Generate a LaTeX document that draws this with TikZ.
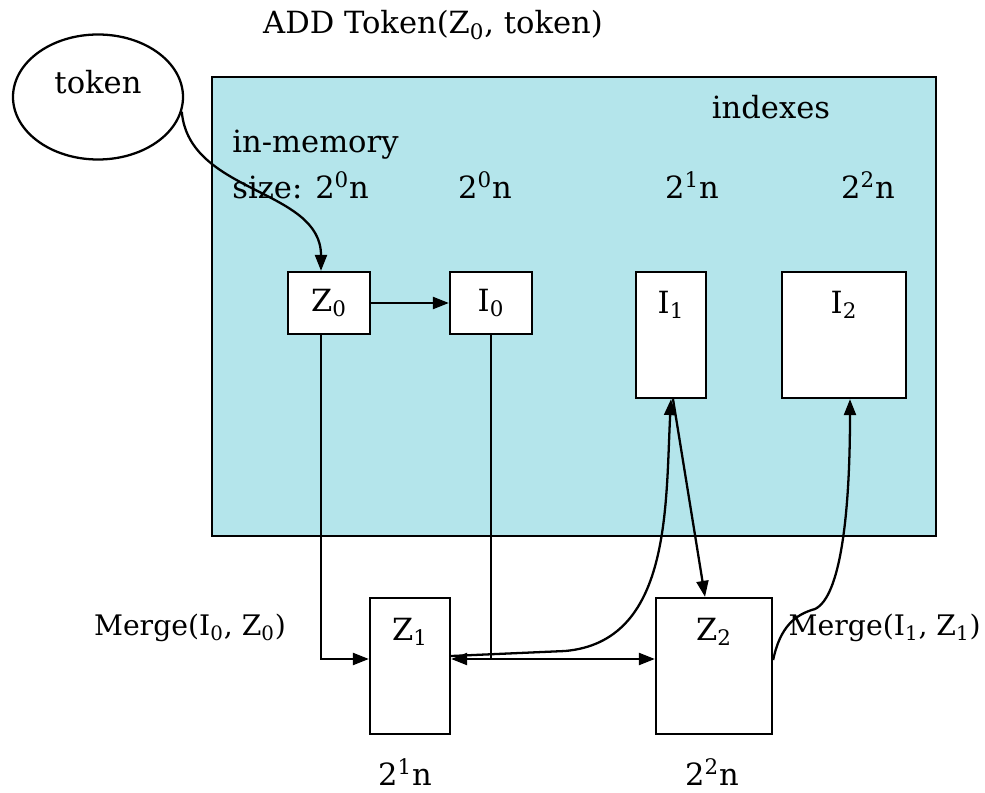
\documentclass[tikz,border=0pt]{standalone}
\usepackage{fontspec}
\setmainfont{DejaVu Serif}
\usetikzlibrary{arrows.meta,positioning,shapes.geometric}
\definecolor{memfill}{RGB}{180,229,235}
\tikzset{
  box/.style={draw, fill=white, line width=1.3pt, inner sep=0pt},
  lbl/.style={inner sep=0pt, font=\fontsize{17.4}{20}\selectfont},
  mergelbl/.style={inner sep=0pt, font=\fontsize{16.1}{19}\selectfont},
  conn/.style={line width=1.3pt, >={Triangle[length=3.2mm,width=2.4mm]}},
}
\begin{document}
\begin{tikzpicture}
\useasboundingbox (0,0) rectangle (19.7,15.84);
\node[lbl] (title) at (8.66, 15.34) {ADD Token(Z\textsubscript{0}, token)};
\node[draw, ellipse, line width=1.3pt, minimum width=3.4cm, minimum height=2.5cm] (tok) at (1.96, 13.9) {};
\node[lbl] (tokt) at (1.96, 14.2) {token};
\node[draw, line width=1.3pt, fill=memfill, minimum width=14.48cm, minimum height=9.18cm] (mem) at (11.48, 9.71) {};
\node[lbl] (idx) at (15.42, 13.7) {indexes};
\node[lbl, anchor=west] (inmem) at (4.64, 12.94) {in-memory};
\node[lbl, anchor=west] (size) at (4.64, 12.14) {size: 2\textsuperscript{0}n};
\node[lbl] (s0) at (9.7, 12.14) {2\textsuperscript{0}n};
\node[lbl] (s1) at (13.84, 12.14) {2\textsuperscript{1}n};
\node[lbl] (s2) at (17.36, 12.14) {2\textsuperscript{2}n};
\node[box, lbl, minimum width=1.64cm, minimum height=1.24cm] (Z0) at (6.58, 9.78) {Z\textsubscript{0}};
\node[box, lbl, minimum width=1.64cm, minimum height=1.24cm] (I0) at (9.82, 9.78) {I\textsubscript{0}};
\node[box, minimum width=1.4cm, minimum height=2.52cm] (I1) at (13.42, 9.14) {};
\node[lbl] (I1t) at (13.42, 9.74) {I\textsubscript{1}};
\node[box, minimum width=2.48cm, minimum height=2.52cm] (I2) at (16.88, 9.14) {};
\node[lbl] (I2t) at (16.88, 9.74) {I\textsubscript{2}};
\node[box, minimum width=1.6cm, minimum height=2.72cm] (Z1) at (8.2, 2.52) {};
\node[lbl] (Z1t) at (8.2, 3.2) {Z\textsubscript{1}};
\node[box, minimum width=2.32cm, minimum height=2.72cm] (Z2) at (14.28, 2.52) {};
\node[lbl] (Z2t) at (14.28, 3.2) {Z\textsubscript{2}};
\node[mergelbl] (m0) at (3.8, 3.28) {Merge(I\textsubscript{0}, Z\textsubscript{0})};
\node[mergelbl, anchor=east] (m1) at (19.62, 3.28) {Merge(I\textsubscript{1}, Z\textsubscript{1})};
\node[lbl] (n1) at (8.1, 0.4) {2\textsuperscript{1}n};
\node[lbl] (n2) at (14.24, 0.4) {2\textsuperscript{2}n};
\coordinate (Z1l) at ([yshift=0.14cm]Z1.west);
\coordinate (Z1r) at ([yshift=0.14cm]Z1.east);
\coordinate (Z2l) at ([yshift=0.14cm]Z2.west);
% token into the in-memory index
\draw[conn,->] (tok.-10) to[out=-85, in=90] ([xshift=-0.16cm]Z0.north);
\draw[conn,->] (Z0) -- (I0);
% merges down
\draw[conn,->] ([xshift=-0.16cm]Z0.south) |- (Z1l);
\draw[conn] (I0.south) -- (I0.south |- Z1r);
\draw[conn,<->] (Z1r) -- (Z2l);
\draw[conn,->] ([yshift=0.06cm]Z1r) -- (11.3, 2.82) to[out=5, in=-93] (I1.south);
\draw[conn,->] ([xshift=0.04cm]I1.south) -- ([xshift=-0.18cm]Z2.north);
\draw[conn,->] ([yshift=0.12cm]Z2.east) .. controls (15.6, 3.3) and (15.9, 3.55) .. (16.3, 3.66) .. controls (16.8, 3.9) and (17.0, 5.5) .. ([xshift=0.12cm]I2.south);
\end{tikzpicture}
\end{document}
